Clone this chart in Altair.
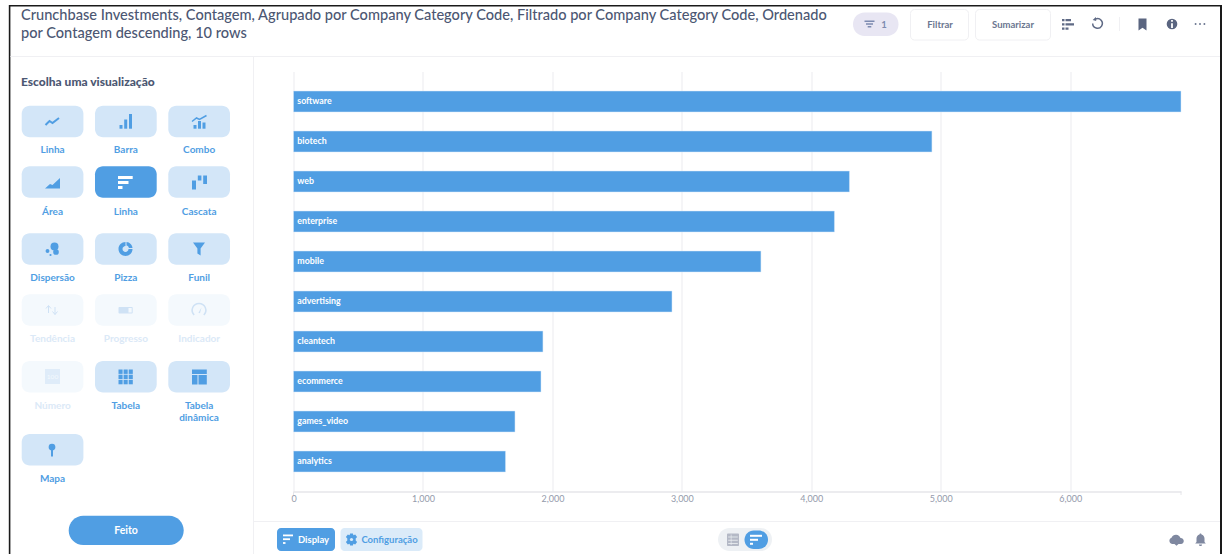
import altair as alt
import pandas as pd

# Investments per company category
categories = ["software", "biotech", "web", "enterprise", "mobile",
              "advertising", "cleantech", "ecommerce", "games_video", "analytics"]
counts = [6856, 4932, 4295, 4179, 3611, 2924, 1927, 1912, 1711, 1638]
x_ticks = [0, 1000, 2000, 3000, 4000, 5000, 6000]

title_lines = [
    "Crunchbase Investments, Contagem, Agrupado por Company Category Code, Filtrado por Company Category Code, Ordenado",
    "por Contagem descending, 10 rows",
]

BLUE = "#509ee3"
PALE = "#d3e6f8"
FAINT = "#f4f9fd"
FAINT_TXT = "#dbe9f7"
INK = "#4c5773"
GREY = "#7f88a0"
LINE = "#f0f0f3"
GRID = "#ebebef"
FONT = "Lato"

# Plot area inside the 1227x554 page
OX, OY = 293.5, 71.5
PW, PH = 887.5, 420
ONE = [{}]
layers = []


def rect(x0, y0, x1, y1, color="transparent", radius=0, stroke=None):
    kw = {"fill": color, "cornerRadius": radius}
    if stroke:
        kw.update(stroke=stroke, strokeWidth=1)
    layers.append(alt.Chart(alt.Data(values=ONE)).mark_rect(**kw).encode(
        x=alt.value(x0 - OX), x2=alt.value(x1 - OX),
        y=alt.value(y0 - OY), y2=alt.value(y1 - OY)))


def text(s, x, y, size=10, color=INK, weight=700, align="center"):
    layers.append(alt.Chart(alt.Data(values=ONE)).mark_text(
        font=FONT, fontSize=size, fontWeight=weight, color=color,
        align=align, baseline="middle").encode(
        x=alt.value(x - OX), y=alt.value(y - OY), text=alt.value(s)))


def glyph(path, x, y, color, stroke=0):
    # size 4 makes one path unit equal one pixel
    kw = dict(shape=path, size=4, opacity=1)
    if stroke:
        kw.update(filled=False, stroke=color, strokeWidth=stroke, fill="transparent")
    else:
        kw.update(filled=True, fill=color, strokeWidth=0)
    layers.append(alt.Chart(alt.Data(values=ONE)).mark_point(**kw).encode(
        x=alt.value(x - OX), y=alt.value(y - OY)))


def dot(x, y, r, color):
    layers.append(alt.Chart(alt.Data(values=ONE)).mark_circle(
        size=3.1416 * r * r, color=color, opacity=1).encode(
        x=alt.value(x - OX), y=alt.value(y - OY)))


# Window frame and panel dividers
rect(8.8, 5, 10.4, 554, "#1a1a1a")
rect(1220, 5, 1222, 554, "#1a1a1a")
rect(9, 5, 1222, 6.4, "#1a1a1a")
rect(10.4, 56, 1220, 57, LINE)
rect(253, 57, 254, 554, LINE)
rect(254, 521, 1220, 522, LINE)

# Header
text(title_lines[0], 21, 16, 14.58, INK, 500, "left")
text(title_lines[1], 21, 33.5, 14.58, INK, 500, "left")

rect(853, 12.5, 898.5, 36, "#e8e6f3", 11.5)
glyph("M-5-3.5H5V-2H-5ZM-3.5-.7H3.5V.8H-3.5ZM-1.8 2.1H1.8V3.6H-1.8Z", 869.5, 24, "#7c8ab0")
text("1", 884, 24.5, 9.5, "#7c8ab0", 700)
rect(910.5, 9.5, 968.5, 40, "white", 4, LINE)
text("Filtrar", 940, 25, 9.5, "#6b7690", 700)
rect(975.5, 9.5, 1050.5, 40, "white", 4, LINE)
text("Sumarizar", 1013, 25, 9.5, "#6b7690", 700)
glyph("M-6-5.5H-3.5V-3.2H-6ZM-2.5-5.5H3V-3.2H-2.5ZM-6-1.2H-3.5V1.1H-6ZM-2.5-1.2H6V1.1H-2.5ZM-6 3H-3.5V5.3H-6ZM-2.5 3H.5V5.3H-2.5Z",
      1068, 24.5, "#5f6a85")
glyph("M-2-4.4A4.8 4.8 0 1 1-4.8 0", 1097.5, 23.5, "#5f6a85", 1.5)
glyph("M-4.8-3.5L-1.6-6.4L-1.3-2.4Z", 1097.5, 23.5, "#5f6a85")
rect(1119, 17, 1120, 31, LINE)
glyph("M-4-6H4V6L0 3.2L-4 6Z", 1142.5, 24.5, "#5a6580")
dot(1172, 24, 6, "#5a6580")
rect(1171.1, 23.3, 1172.9, 28, "white")
rect(1171.1, 20, 1172.9, 21.8, "white")
for dx in (-4.4, 0, 4.4):
    dot(1200 + dx, 24, 1.1, "#6b7690")

# Sidebar
text("Escolha uma visualização", 21, 81.5, 12, INK, 900, "left")
col_lefts = [21.7, 95, 168.3]
row_tops = [105.7, 166.3, 233.3, 294.3, 361, 434]
CELL_W, CELL_H = 61.7, 31.5
picker = [
    [("Linha", 149.5, "on"), ("Barra", 149.5, "on"), ("Combo", 149.5, "on")],
    [("Área", 211.5, "on"), ("Linha", 211.5, "active"), ("Cascata", 211.5, "on")],
    [("Dispersão", 277.5, "on"), ("Pizza", 277.5, "on"), ("Funil", 277.5, "on")],
    [("Tendência", 339, "off"), ("Progresso", 339, "off"), ("Indicador", 339, "off")],
    [("Número", 405.5, "off"), ("Tabela", 405.5, "on"), ("Tabela", 405.5, "on")],
    [("Mapa", 479, "on")],
]
for top, row in zip(row_tops, picker):
    for left, (label, label_y, state) in zip(col_lefts, row):
        fill = {"on": PALE, "active": BLUE, "off": FAINT}[state]
        rect(left, top, left + CELL_W, top + CELL_H, fill, 8)
        text(label, left + CELL_W / 2, label_y, 10,
             FAINT_TXT if state == "off" else BLUE, 700)
text("dinâmica", 199, 417.5, 10, BLUE, 700)

# Picker icons
glyph("M-7 3.5L-3 -.5L0 1.5L6.5 -3.5", 52.5, 121.5, BLUE, 2)
rect(119.5, 125, 122.5, 128.7, BLUE)
rect(124.2, 119.5, 127.2, 128.7, BLUE)
rect(129, 114, 132, 128.7, BLUE)
rect(193.5, 125, 196.5, 128.7, BLUE)
rect(198, 121, 201, 128.7, BLUE)
rect(202.5, 122.5, 205.5, 128.7, BLUE)
glyph("M-7.5 -.5L-3 -4L0 -2.5L7 -6.5", 199.5, 122, BLUE, 1.5)
glyph("M-7.5 6L-2.5 1.5L0 2.5L7.5 -4.5V6Z", 52.5, 182.5, BLUE)
rect(118, 176, 132.7, 179, "white")
rect(118, 181, 128.5, 184, "white")
rect(118, 186, 122.5, 189, "white")
rect(192, 180.5, 196, 189.5, BLUE)
rect(197.8, 175.5, 201.4, 180.5, BLUE)
rect(203.2, 175.5, 207, 184, BLUE)
dot(54.5, 246.5, 4.5, BLUE)
dot(56, 252, 3.2, BLUE)
dot(47.5, 251, 2.2, BLUE)
dot(50.5, 255, 1.2, BLUE)
glyph("M0-7A7 7 0 1 0 7 0H3A3 3 0 1 1 0-3Z", 125.5, 249, BLUE)
glyph("M1-7A6.5 6.5 0 0 1 7-1H3.4A3 3 0 0 0 1-3.4Z", 125.5, 249, BLUE)
glyph("M-6-6.5H6L1.6 -.5V6.5L-1.6 4.5V-.5Z", 199, 249, BLUE)
glyph("M-4 3V-4M-6.5-1.5L-4-4.5L-1.5-1.5M2.5-3V4.5M0 1.5L2.5 4.5L5 1.5", 52.5, 310, "#cfe2f5", 1)
rect(118.5, 307, 132.7, 313.5, "#cfe2f5", 1)
rect(128.5, 308, 131.7, 312.5, FAINT)
glyph("M-4.8 4.5A6.8 6.8 0 1 1 4.8 4.5", 199, 310.5, "#cfe2f5", 1.5)
glyph("M-.6 2.2L2.5-3L1 2.8Z", 199, 310.5, "#cfe2f5")
rect(45, 369, 60, 384, "#dfecf9")
text("100", 52.5, 376.5, 6.5, "#f4f9fd", 400)
for cx in (118.5, 123.6, 128.7):
    for cy in (369.5, 374.7, 379.9):
        rect(cx, cy, cx + 4.1, cy + 4.4, BLUE)
rect(192, 369.5, 206.8, 374, BLUE)
rect(192, 375, 197.5, 384.5, BLUE)
rect(198.5, 375, 206.8, 384.5, BLUE)
dot(52, 447, 3.8, BLUE)
rect(51, 449, 53, 456.5, BLUE)

rect(68.7, 515.7, 183.7, 545, BLUE, 14.6)
text("Feito", 126, 531, 10.5, "white", 700)

# Footer controls
rect(277, 528, 335, 551, BLUE, 4)
rect(283, 534.5, 293, 536.3, "white")
rect(283, 538.3, 290, 540.1, "white")
rect(283, 542.1, 285.5, 543.9, "white")
text("Display", 313.5, 540, 9.5, "white", 700)
rect(340.5, 528, 422.5, 551, "#dbebf9", 4)
glyph("M-1.4-6H1.4L1.9-4.2L3.7-5L5.6-2.4L4.2-1V1L5.6 2.4L3.7 5L1.9 4.2L1.4 6H-1.4L-1.9 4.2L-3.7 5L-5.6 2.4L-4.2 1V-1L-5.6-2.4L-3.7-5L-1.9-4.2Z",
      351.5, 539.5, BLUE)
dot(351.5, 539.5, 1.8, "#dbebf9")
text("Configuração", 389.5, 540, 9.5, BLUE, 700)
rect(718, 528, 772, 551, "#eef1f4", 11.5)
rect(727, 533.5, 739, 546, "#b4b9c6", 1)
for gy in (536.6, 539.8, 543):
    rect(728.2, gy, 737.8, gy + 0.8, "#eef1f4")
rect(730.8, 534.5, 731.4, 545, "#eef1f4")
rect(744.5, 530.5, 768, 549, BLUE, 9.3)
rect(750, 534.8, 762, 536.8, "white")
rect(750, 538.8, 758, 540.8, "white")
rect(750, 542.8, 753, 544.8, "white")
glyph("M-4.5 4.5A3.3 3.3 0 0 1-5 -1.8A4.8 4.8 0 0 1 4-1.5A3 3 0 0 1 4.5 4.5H2L0 6.3L-2 4.5Z", 1176.5, 539.5, "#7f88a0")
glyph("M0-6A1 1 0 0 1 1-5A4 4 0 0 1 4-1V2.5L5.3 4H-5.3L-4 2.5V-1A4 4 0 0 1-1-5A1 1 0 0 1 0-6ZM-1.6 5H1.6A1.6 1.6 0 0 1-1.6 5Z", 1200.5, 539.5, "#7f88a0")

# The chart itself
data = pd.DataFrame({"category": categories, "count": counts})
x_enc = alt.X("count:Q",
              scale=alt.Scale(domain=[0, counts[0]], nice=False, zero=True),
              axis=alt.Axis(values=x_ticks, format=",d", title=None, grid=True,
                            gridColor=GRID, gridWidth=1, tickSize=0, labelPadding=3,
                            labelFont=FONT, labelFontSize=9, labelColor="#949aab",
                            labelFontWeight=400, domainColor="#e6e6ea", domainWidth=1.5,
                            labelOverlap=False, labelFlush=False))
y_enc = alt.Y("category:N", sort=categories, axis=None,
              scale=alt.Scale(paddingInner=0.475, paddingOuter=0.4875))
bars = alt.Chart(data).mark_bar(color=BLUE, stroke="#d9e9f8", strokeWidth=0.5).encode(x=x_enc, y=y_enc)
labels = alt.Chart(data).mark_text(
    font=FONT, fontSize=8.8, fontWeight=700, color="white", align="left",
    baseline="middle", dy=-0.5).encode(x=alt.value(3.8), y=y_enc, text="category:N")
end_ticks = alt.Chart(pd.DataFrame({"count": [0, counts[0]]})).mark_rule(
    color="#e6e6ea", strokeWidth=1).encode(
    x=alt.X("count:Q"), y=alt.value(PH), y2=alt.value(PH + 3.5))

chart = alt.layer(*layers, bars, labels, end_ticks).properties(
    width=PW, height=PH,
    padding={"left": OX, "top": OY, "right": 1227 - OX - PW, "bottom": 554 - OY - PH},
    autosize=alt.AutoSizeParams(type="none"),
    background="white",
).configure_view(stroke=None)

chart.save("out.html", embed_options={"renderer": "svg", "actions": False})
